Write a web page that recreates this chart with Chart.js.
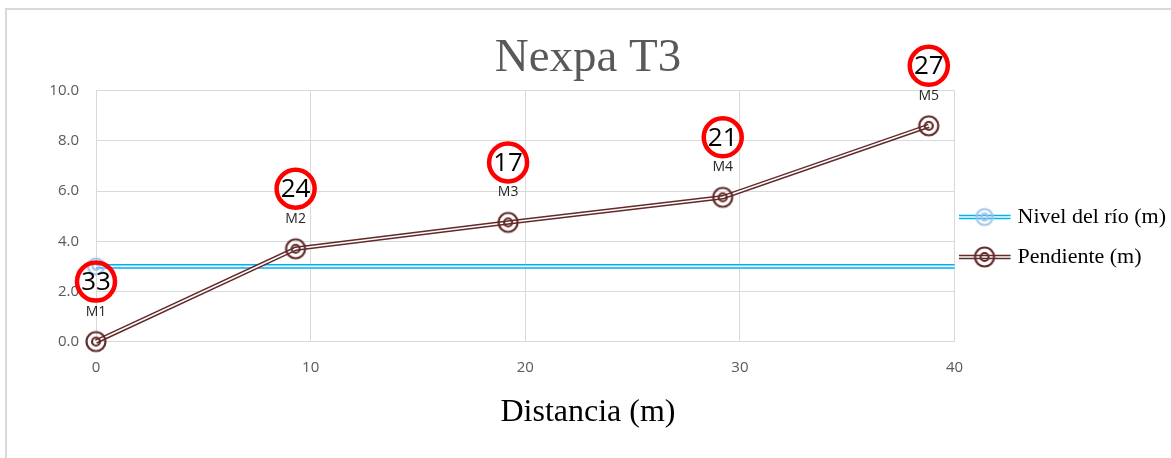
<!DOCTYPE html>
<html>
<head>
<meta charset="utf-8">
<script src="https://cdn.jsdelivr.net/npm/chart.js@4.4.1/dist/chart.umd.min.js"></script>
<style>
  html, body { margin: 0; padding: 0; background: #fff; overflow: hidden; }
  body { width: 1171px; height: 458px; position: relative; }
  #frame { position: absolute; left: 5px; top: 8px; width: 1300px; height: 600px; border: 2px solid #d9d9d9; }
  #wrap { position: absolute; left: 0; top: 0; width: 1200px; height: 458px; }
</style>
</head>
<body>
<div id="frame"></div>
<div id="wrap"><canvas id="graph-nexpa"></canvas></div>
<script>
// perfil Nexpa T3
const distancia = [0, 9.3, 19.2, 29.2, 38.8];
const pendiente = [0, 3.7, 4.75, 5.75, 8.6];
const puntos = ["M1", "M2", "M3", "M4", "M5"];
const muestras = [33, 24, 17, 21, 27];
const nivelX = [0, 40];
const nivelY = [3.0, 3.0];
const xTicks = [0, 10, 20, 30, 40];
const yTicks = [0, 2, 4, 6, 8, 10];
const leyenda = ["Nivel del río (m)", "Pendiente (m)"];

const cafe = "#632a2a";
const azul = "#00b0f0";
const azulMarca = "#9dc3e6";

// marcador de doble anillo
function marca(color, r, lw) {
    const c = document.createElement("canvas");
    const s = Math.ceil(2 * r + lw + 2);
    c.width = c.height = s;
    const g = c.getContext("2d");
    g.strokeStyle = color;
    g.lineWidth = lw;
    g.beginPath();
    g.arc(s / 2, s / 2, r, 0, 2 * Math.PI);
    g.stroke();
    g.beginPath();
    g.arc(s / 2, s / 2, r * 0.42, 0, 2 * Math.PI);
    g.stroke();
    return c;
}

// simbolo de leyenda: linea doble con marcador (dibujado a la izquierda del lienzo)
function simbolo(lineColor, img) {
    const c = document.createElement("canvas");
    c.width = 62;
    c.height = 24;
    const g = c.getContext("2d");
    g.lineWidth = 4.5;
    g.strokeStyle = lineColor;
    g.beginPath(); g.moveTo(0, 12); g.lineTo(52, 12); g.stroke();
    g.lineWidth = 1.6;
    g.strokeStyle = "#fff";
    g.beginPath(); g.moveTo(0, 12); g.lineTo(52, 12); g.stroke();
    g.drawImage(img, 26 - img.width / 2, 12 - img.height / 2);
    return c;
}

const marcaNivel = marca(azulMarca, 8, 2.2);
const marcaCafe = marca(cafe, 9.5, 2.2);

function dobleLinea(label, xs, ys, color, img, order, radios) {
    const data = xs.map((x, i) => ({ x: x, y: ys[i] }));
    return [
        { label: label, data: data, showLine: false, pointStyle: img, pointRadius: radios, order: order, clip: false },
        { data: data, borderColor: "#fff", borderWidth: 1.6, pointRadius: 0, order: order + 1, clip: false },
        { data: data, borderColor: color, borderWidth: 4.6, pointRadius: 0, order: order + 2, clip: false }
    ];
}

const datasets = [
    ...dobleLinea(leyenda[0], nivelX, nivelY, azul, marcaNivel, 4, [8, 0]),
    ...dobleLinea(leyenda[1], distancia, pendiente, cafe, marcaCafe, 1, 10)
];

// etiquetas M1..M5 y numeros en circulo rojo
const marcasPlugin = {
    id: "marcas",
    afterDatasetsDraw(chart) {
        const meta = chart.getDatasetMeta(3);
        const ctx = chart.ctx;
        ctx.save();
        ctx.textAlign = "center";
        ctx.textBaseline = "middle";
        meta.data.forEach((pt, i) => {
            ctx.fillStyle = "#262626";
            ctx.font = '14px "Open Sans"';
            ctx.fillText(puntos[i], pt.x, pt.y - 30);
            const cy = pt.y - 60;
            ctx.beginPath();
            ctx.arc(pt.x, cy, 19, 0, 2 * Math.PI);
            ctx.lineWidth = 4.5;
            ctx.strokeStyle = "#ff0000";
            ctx.stroke();
            ctx.fillStyle = "#000";
            ctx.font = '26px "Open Sans"';
            ctx.fillText(String(muestras[i]), pt.x, cy + 1);
        });
        ctx.restore();
    }
};

const tickFont = { family: '"Open Sans"', size: 15 };

new Chart(document.getElementById("graph-nexpa").getContext("2d"), {
    type: "line",
    data: { datasets: datasets },
    plugins: [marcasPlugin],
    options: {
        responsive: true,
        maintainAspectRatio: false,
        animation: false,
        events: [],
        layout: { padding: { left: 0, right: 24, top: 16, bottom: 0 } },
        plugins: {
            title: {
                display: true,
                text: "Nexpa T3",
                color: "#595959",
                font: { family: '"Liberation Serif"', size: 47, weight: "normal", lineHeight: 1.1 },
                padding: { top: 17, bottom: 6 }
            },
            subtitle: {
                display: true,
                position: "bottom",
                text: "Distancia (m)",
                color: "#000",
                font: { family: '"Liberation Serif"', size: 32, weight: "normal", lineHeight: 1.2 },
                padding: { top: 0, bottom: 26 }
            },
            legend: {
                position: "right",
                labels: {
                    usePointStyle: true,
                    pointStyleWidth: 34,
                    padding: 18,
                    color: "#000",
                    font: { family: '"Liberation Serif"', size: 22 },
                    generateLabels: () => leyenda.map((text, i) => ({
                        text: text,
                        pointStyle: i === 0 ? simbolo(azul, marcaNivel) : simbolo(cafe, marcaCafe),
                        datasetIndex: i * 3,
                        fontColor: "#000",
                        hidden: false,
                        lineWidth: 0
                    }))
                }
            },
            tooltip: { enabled: false }
        },
        scales: {
            x: {
                type: "linear",
                min: 0,
                max: 40,
                afterBuildTicks: s => { s.ticks = xTicks.map(v => ({ value: v })); },
                grid: { color: "#d9d9d9", lineWidth: 1, drawTicks: false },
                border: { display: false },
                ticks: { padding: 17, color: "#595959", font: tickFont }
            },
            y: {
                min: 0,
                max: 10,
                afterBuildTicks: s => { s.ticks = yTicks.map(v => ({ value: v })); },
                afterFit: s => { s.width = 96; },
                grid: { color: "#d9d9d9", lineWidth: 1, drawTicks: false },
                border: { display: false },
                ticks: { padding: 17, color: "#595959", font: tickFont, callback: v => v.toFixed(1) }
            }
        }
    }
});
</script>
</body>
</html>
